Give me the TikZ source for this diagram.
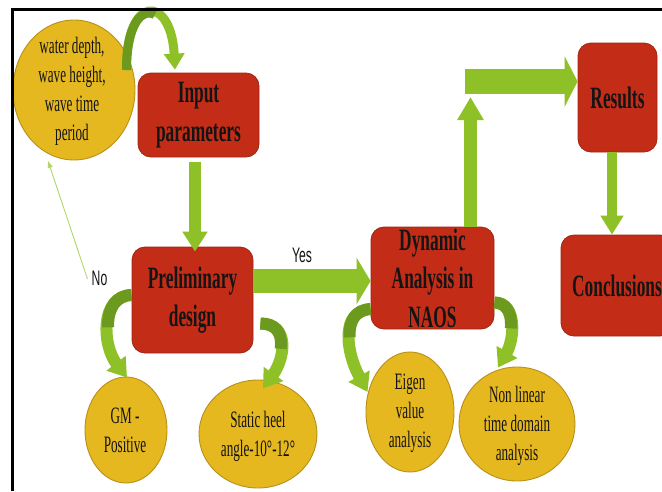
\documentclass[tikz,border=0pt]{standalone}
\usepackage{fontspec}
\setmainfont{Liberation Serif}
\newfontfamily\condserif[FakeStretch=0.56]{Liberation Serif}
\newfontfamily\condsans[FakeStretch=0.58]{Liberation Sans}
\usetikzlibrary{arrows.meta,shapes.geometric}
\definecolor{boxred}{HTML}{C32D18}
\definecolor{boxedge}{HTML}{9C2612}
\definecolor{gold}{HTML}{E6B820}
\definecolor{goldedge}{HTML}{B88F18}
\definecolor{lgreen}{HTML}{8EC127}
\definecolor{dgreen}{HTML}{6C9A1F}
\definecolor{thinc}{HTML}{B2D66A}
\definecolor{inkc}{HTML}{141414}
\begin{document}
\begin{tikzpicture}[x=1pt,y=-1pt,
  redbox/.style={draw=boxedge,line width=0.8pt,fill=boxred,rounded corners=13pt,inner sep=0pt,align=center,
    font={\condserif\bfseries\fontsize{31}{38.5}\selectfont},text=inkc},
  goldell/.style={ellipse,draw=goldedge,line width=0.9pt,fill=gold,inner sep=0pt},
  celltext/.style={inner sep=0pt,align=center,text=inkc,font={\condserif\fontsize{23.5}{29}\selectfont}},
  lbl/.style={inner sep=0pt,text=inkc,font={\condsans\fontsize{21}{24}\selectfont}},
  bentarrow/.style={lgreen,line width=12pt,-{Triangle[width=23pt,length=18pt]}},
  benttail/.style={dgreen,line width=12pt,dash pattern=on #1 off 2000pt},
]
\useasboundingbox (0,0) rectangle (662,491);

% boxes
\node[redbox,minimum width=121pt,minimum height=84pt] (inp) at (198.5,115) {Input\\parameters};
\node[redbox,minimum width=121pt,minimum height=106pt] (prel) at (192.5,300) {Preliminary\\design};
\node[redbox,minimum width=123pt,minimum height=102pt] (dyn) at (432.5,278) {Dynamic\\Analysis in\\NAOS};
\node[redbox,minimum width=79pt,minimum height=109pt] (res) at (617.5,97.5) {Results};
\node[redbox,minimum width=112pt,minimum height=101pt] (conc) at (617,285.5) {Conclusions};

% ellipses
\node[goldell,minimum width=122pt,minimum height=140pt] (c1) at (74,90) {};
\node[celltext] (c1t) at (72,91.5) {water depth,\\wave height,\\wave time\\period};
\node[goldell,minimum width=82pt,minimum height=106pt] (gm) at (126,430) {};
\node[celltext] (gmt) at (125,430) {GM -\\Positive};
\node[goldell,minimum width=118pt,minimum height=108pt] (st) at (258,434) {};
\node[celltext] (stt) at (258,436) {Static heel\\angle-10°-12°};
\node[goldell,minimum width=88pt,minimum height=120pt] (eig) at (410,412) {};
\node[celltext] (eigt) at (410,413) {Eigen\\value\\analysis};
\node[goldell,minimum width=116pt,minimum height=114pt] (nl) at (517,424) {};
\node[celltext] (nlt) at (517,426) {Non linear\\time domain\\analysis};

% labels
\node[lbl] (yes) at (302,255) {Yes};
\node[lbl] (no) at (99.5,278) {No};

% straight block arrows
\draw[lgreen,line width=12pt,-{Triangle[width=24pt,length=20pt]}]
  ([xshift=-3.5pt,yshift=-5pt]inp.south) -- ([xshift=-3.5pt,yshift=-5pt]inp.south |- prel.north);
\draw[lgreen,line width=24pt,-{Triangle[width=46pt,length=14pt]}]
  ([yshift=19pt]prel.east) -- ([yshift=19pt]prel.east -| dyn.west);
\coordinate (elbow) at (465,81.5);
\draw[lgreen,line width=13pt,-{Triangle[width=25pt,length=23pt]}]
  ([xshift=38pt]dyn.north) -- ([xshift=5.5pt,yshift=-15.5pt]elbow);
\draw[lgreen,line width=25pt,-{Triangle[width=50pt,length=13pt]}]
  (elbow) -- (elbow -| res.west);
\draw[lgreen,line width=10pt,-{Triangle[width=22pt,length=19pt]}]
  ([xshift=-5.5pt]res.south) -- ([xshift=-5.5pt]res.south |- conc.north);

% top curved arrow (circle -> input)
\draw[lgreen,line width=9pt,-{Triangle[width=20pt,length=16pt]}]
  ([xshift=52.5pt,yshift=20pt]c1.center) .. controls (126,-6) and (171,-6) .. ([xshift=-23.5pt,yshift=3pt]inp.north);
\draw[benttail=72pt,line width=9pt]
  ([xshift=52.5pt,yshift=20pt]c1.center) .. controls (126,-6) and (171,-6) .. ([xshift=-23.5pt,yshift=3pt]inp.north);

% curved arrows from preliminary design
\draw[bentarrow] ([yshift=5pt]prel.west) .. controls (100,296) and (102,345) .. ([xshift=1pt,yshift=-1pt]gm.north);
\draw[benttail=45pt] ([yshift=5pt]prel.west) .. controls (100,296) and (102,345) .. ([xshift=1pt,yshift=-1pt]gm.north);
\draw[bentarrow] ([xshift=7pt,yshift=-23.5pt]prel.east) .. controls (290,323.5) and (285,358) .. ([xshift=5pt,yshift=-9pt]st.north);
\draw[benttail=38pt] ([xshift=7pt,yshift=-23.5pt]prel.east) .. controls (290,323.5) and (285,358) .. ([xshift=5pt,yshift=-9pt]st.north);

% curved arrows from dynamic analysis
\draw[bentarrow] ([yshift=-31pt]dyn.west) .. controls (340,311) and (346,352) .. ([xshift=2pt,yshift=20pt]eig.west);
\draw[benttail=40pt] ([yshift=-31pt]dyn.west) .. controls (340,311) and (346,352) .. ([xshift=2pt,yshift=20pt]eig.west);
\draw[bentarrow] ([yshift=-24.5pt]dyn.east) .. controls (518,303) and (514,340) .. ([xshift=-19pt,yshift=-1pt]nl.north);
\draw[benttail=35pt] ([yshift=-24.5pt]dyn.east) .. controls (518,303) and (514,340) .. ([xshift=-19pt,yshift=-1pt]nl.north);

% thin "No" connector
\coordinate (notip) at (48,161);
\draw[thinc,line width=0.9pt,-{Triangle[width=5pt,length=7pt]}] ([xshift=-4pt,yshift=-1pt]no.west) -- (notip);

% frame
\draw[line width=3pt,black] (12,491) -- (12,9) -- (662,9);
\end{tikzpicture}
\end{document}
